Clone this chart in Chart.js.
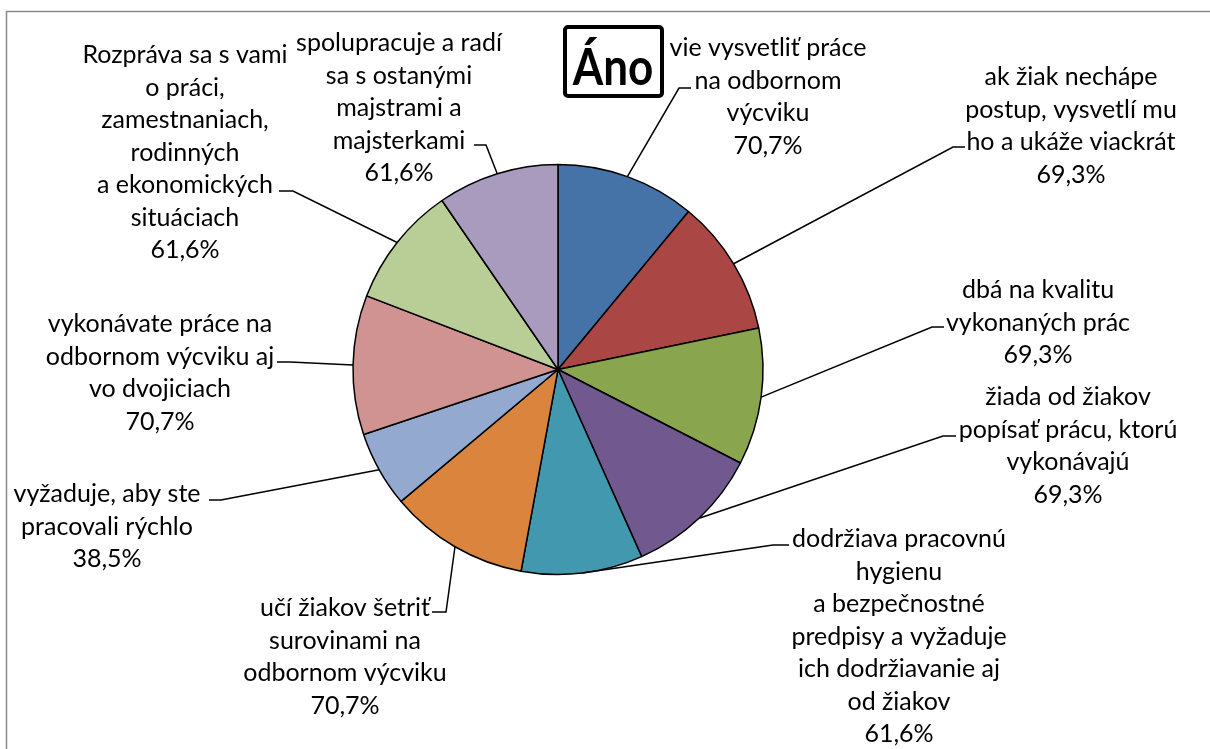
<!DOCTYPE html>
<html><head><meta charset="utf-8">
<script src="https://cdn.jsdelivr.net/npm/chart.js@4"></script>
<style>html,body{margin:0;padding:0;background:#fff;}canvas{display:block;}</style>
</head><body>
<canvas id="c" width="1210" height="749"></canvas>
<script>
// ---- data ----
const categories = [
  "vie vysvetliť práce\nna odbornom\nvýcviku",
  "ak žiak nechápe\npostup, vysvetlí mu\nho a ukáže viackrát",
  "dbá na kvalitu\nvykonaných prác",
  "žiada od žiakov\npopísať prácu, ktorú\nvykonávajú",
  "dodržiava pracovnú\nhygienu\na bezpečnostné\npredpisy a vyžaduje\nich dodržiavanie aj\nod žiakov",
  "učí žiakov šetriť\nsurovinami na\nodbornom výcviku",
  "vyžaduje, aby ste\npracovali rýchlo",
  "vykonávate práce na\nodbornom výcviku aj\nvo dvojiciach",
  "Rozpráva sa s vami\no práci,\nzamestnaniach,\nrodinných\na ekonomických\nsituáciach",
  "spolupracuje a radí\nsa s ostanými\nmajstrami a\nmajsterkami"
];
const values = [70.7, 69.3, 69.3, 69.3, 61.6, 70.7, 38.5, 70.7, 61.6, 61.6];
const valueLabels = ["70,7%", "69,3%", "69,3%", "69,3%", "61,6%", "70,7%", "38,5%", "70,7%", "61,6%", "61,6%"];
const chartTitle = "Áno";

// ---- styles / layout ----
const colors = ["#4572A7","#AA4643","#89A54E","#71588F","#4198AF","#DB843D","#93A9CF","#D19392","#B9CD96","#A99BBD"];
// label block: center x, first line center y, elbow point, end point of horizontal tick
const labelLayout = [
  {cx:768,  y0:48,  elbow:[679,88],  end:[691,88]},
  {cx:1071, y0:77,  elbow:[953,147], end:[965,147]},
  {cx:1038, y0:290, elbow:[932,327], end:[944,327]},
  {cx:1068, y0:397, elbow:[943,436], end:[956,436]},
  {cx:899,  y0:539, elbow:[773,545], end:[789,545]},
  {cx:345,  y0:608, elbow:[446,612], end:[432,612]},
  {cx:107,  y0:494, elbow:[221,500], end:[209,500]},
  {cx:160,  y0:324, elbow:[290,362], end:[277,362]},
  {cx:185,  y0:55,  elbow:[293,191], end:[279,191]},
  {cx:399,  y0:43,  elbow:[486,145], end:[474,145]}
];
const lineStep = 32.5;
const labelFont = "25px Lato";

const decorPlugin = {
  id: 'decor',
  afterDraw(chart) {
    const ctx = chart.ctx;
    ctx.save();
    // outer frame
    ctx.strokeStyle = '#8a8a8a';
    ctx.lineWidth = 1.5;
    ctx.strokeRect(6.5, 11.5, 1300, 900);

    // leader lines & labels
    const meta = chart.getDatasetMeta(0);
    meta.data.forEach((arc, i) => {
      const p = arc.getProps(['x','y','startAngle','endAngle','outerRadius'], true);
      const mid = (p.startAngle + p.endAngle) / 2;
      const sx = p.x + p.outerRadius * Math.cos(mid);
      const sy = p.y + p.outerRadius * Math.sin(mid);
      const L = labelLayout[i];
      ctx.strokeStyle = '#000';
      ctx.lineWidth = 1.5;
      ctx.beginPath();
      ctx.moveTo(sx, sy);
      ctx.lineTo(L.elbow[0], L.elbow[1]);
      ctx.lineTo(L.end[0], L.end[1]);
      ctx.stroke();

      const lines = chart.data.labels[i].split('\n').concat([valueLabels[i]]);
      ctx.fillStyle = '#000';
      ctx.font = labelFont;
      ctx.textAlign = 'center';
      ctx.textBaseline = 'middle';
      lines.forEach((t, k) => ctx.fillText(t, L.cx, L.y0 + k * lineStep));
    });

    // title box
    ctx.strokeStyle = '#000';
    ctx.lineWidth = 4;
    ctx.beginPath();
    ctx.roundRect(565, 27, 97, 69, 3);
    ctx.stroke();
    ctx.fillStyle = '#000';
    ctx.font = 'bold 44px Lato';
    ctx.textAlign = 'center';
    ctx.textBaseline = 'alphabetic';
    ctx.translate(613, 85);
    ctx.scale(1, 1.15);
    ctx.fillText(chartTitle, 0, 0);
    ctx.restore();
  }
};

new Chart(document.getElementById('c'), {
  type: 'pie',
  data: {
    labels: categories,
    datasets: [{
      data: values,
      backgroundColor: colors,
      borderColor: '#000',
      borderWidth: 1.5
    }]
  },
  options: {
    responsive: false,
    devicePixelRatio: 1,
    animation: false,
    layout: { padding: { left: 352.25, right: 446.25, top: 163.75, bottom: 173.75 } },
    plugins: { legend: { display: false }, tooltip: { enabled: false }, title: { display: false } }
  },
  plugins: [decorPlugin]
});
</script>
</body></html>
